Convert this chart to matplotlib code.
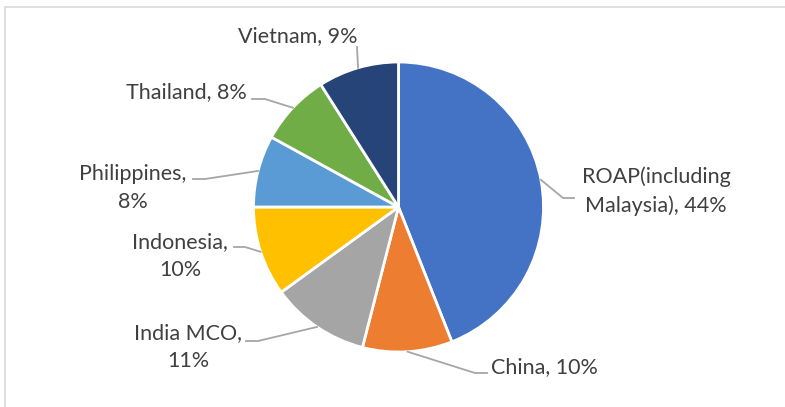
import matplotlib.pyplot as plt
import numpy as np
from matplotlib.patches import Rectangle

regions = ["ROAP(including\nMalaysia)", "China", "India MCO", "Indonesia",
           "Philippines", "Thailand", "Vietnam"]
shares = [44, 10, 11, 10, 8, 8, 9]
colors = ["#4472C4", "#ED7D31", "#A5A5A5", "#FFC000", "#5B9BD5", "#70AD47", "#264478"]

W, H = 785, 407
CX, CY, R = 398.5, 207, 145   # pie centre / radius in pixels


def px(x, y):
    # pixel position (from top-left) -> pie data coords
    return (x - CX) / R, (CY - y) / R


# label placement: text anchor, alignment, and the elbow of the leader line
label_text = {
    "ROAP(including\nMalaysia)": ("ROAP(including\nMalaysia), 44%", (656, 191), "center", [(563, 198), (574, 198)]),
    "China": ("China, 10%", (491, 367), "left", [(475, 373), (487, 373)]),
    "India MCO": ("India MCO,\n11%", (188, 347), "center", [(258, 341), (246, 341)]),
    "Indonesia": ("Indonesia,\n10%", (180, 256), "center", [(245, 247), (234, 247)]),
    "Philippines": ("Philippines,\n8%", (133, 188), "center", [(205, 179), (193, 179)]),
    "Thailand": ("Thailand, 8%", (247, 92), "right", [(265, 99), (252, 99)]),
    "Vietnam": ("Vietnam, 9%", (298, 36), "center", [(357, 47)]),
}

fig = plt.figure(figsize=(W / 100, H / 100), dpi=100)
fig.patches.append(Rectangle((5 / W, -0.1), 1.1, 1.1 - 7 / H, transform=fig.transFigure,
                             fill=False, edgecolor="#D9D9D9", linewidth=1.2))

ax = fig.add_axes([(CX - R) / W, (H - CY - R) / H, 2 * R / W, 2 * R / H])
wedges, _ = ax.pie(shares, colors=colors, startangle=90, counterclock=False, radius=1,
                   wedgeprops=dict(edgecolor="white", linewidth=2))
ax.set_xlim(-1, 1)
ax.set_ylim(-1, 1)
ax.set_aspect("equal")
ax.axis("off")

for w, name in zip(wedges, regions):
    text, pos, ha, elbow = label_text[name]
    mid = np.deg2rad((w.theta1 + w.theta2) / 2)
    pts = [(np.cos(mid), np.sin(mid))] + [px(*p) for p in elbow]
    xs, ys = zip(*pts)
    ax.plot(xs, ys, color="#A6A6A6", linewidth=1.3, clip_on=False)
    tx, ty = px(*pos)
    ax.text(tx, ty, text, ha=ha, va="center", multialignment="center",
            fontsize=15.5, family="Lato", color="#404040", linespacing=1.5)

fig.savefig("out.png", dpi=100)
